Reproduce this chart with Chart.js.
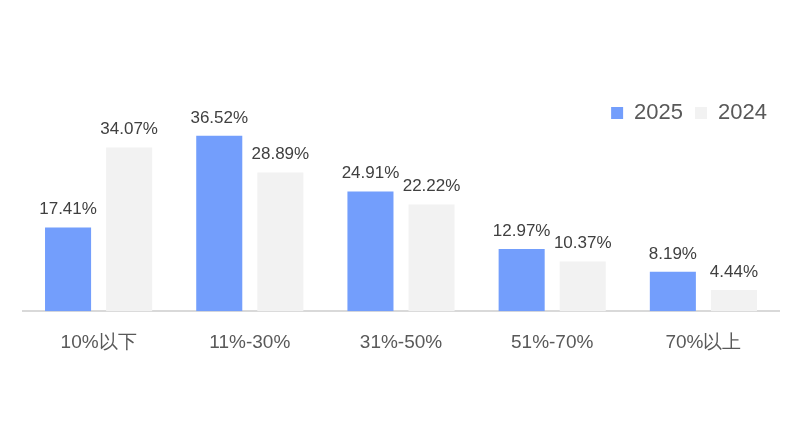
<!DOCTYPE html>
<html>
<head>
<meta charset="utf-8">
<script src="https://cdn.jsdelivr.net/npm/chart.js@4/dist/chart.umd.min.js"></script>
<style>
  html, body { margin: 0; padding: 0; background: #fff; }
  #wrap { width: 802px; height: 422px; }
</style>
</head>
<body>
<div id="wrap"><canvas id="c" width="802" height="422"></canvas></div>
<script>
const categories = ["10%以下", "11%-30%", "31%-50%", "51%-70%", "70%以上"];
const values2025 = [17.41, 36.52, 24.91, 12.97, 8.19];
const values2024 = [34.07, 28.89, 22.22, 10.37, 4.44];

// draws the percent above each bar
const barLabels = {
    id: "barLabels",
    afterDatasetsDraw(chart) {
        const ctx = chart.ctx;
        ctx.save();
        ctx.font = "17px 'Liberation Sans', Arial, sans-serif";
        ctx.fillStyle = "#404040";
        ctx.textAlign = "center";
        ctx.textBaseline = "middle";
        chart.data.datasets.forEach((ds, i) => {
            chart.getDatasetMeta(i).data.forEach((bar, j) => {
                ctx.fillText(ds.data[j].toFixed(2) + "%", bar.x, bar.y - 18);
            });
        });
        ctx.restore();
    }
};

new Chart(document.getElementById("c"), {
    type: "bar",
    data: {
        labels: categories,
        datasets: [
            { label: "2025", data: values2025, backgroundColor: "#739EFC" },
            { label: "2024", data: values2024, backgroundColor: "#F2F2F2" }
        ]
    },
    options: {
        responsive: false,
        animation: false,
        layout: { padding: { left: 23, right: 23, top: 90, bottom: 48 } },
        datasets: { bar: { categoryPercentage: 0.808, barPercentage: 0.754 } },
        scales: {
            x: {
                grid: { display: false, drawTicks: false },
                border: { color: "#D9D9D9", width: 2 },
                ticks: {
                    padding: 20,
                    color: "#595959",
                    font: { family: "'Liberation Sans', Arial, sans-serif", size: 19 }
                }
            },
            y: { display: false, min: 0, max: 36.9 }
        },
        plugins: {
            tooltip: { enabled: false },
            legend: {
                position: "top",
                align: "end",
                labels: {
                    boxWidth: 12,
                    boxHeight: 12,
                    padding: 12,
                    color: "#595959",
                    font: { family: "'Liberation Sans', Arial, sans-serif", size: 22 }
                }
            }
        }
    },
    plugins: [barLabels]
});
</script>
</body>
</html>
